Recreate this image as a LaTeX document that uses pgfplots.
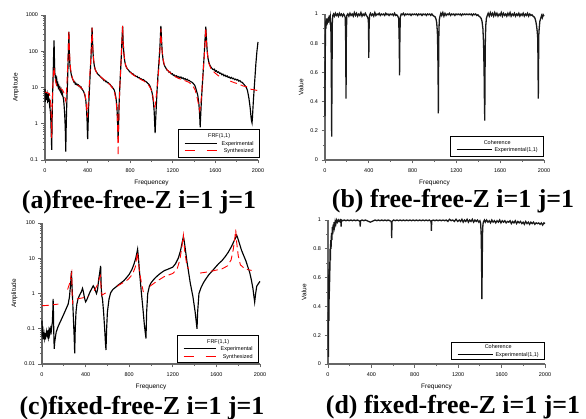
\documentclass[border=0pt]{standalone}
\usepackage{fontspec}
\setmainfont{Liberation Sans}
\newfontfamily\capfont{Liberation Serif}
\usepackage{pgfplots}
\pgfplotsset{compat=1.18}
\pgfplotsset{
 base/.style={scale only axis, anchor=south west,
  axis x line*=bottom, axis y line*=left,
  axis line style={-, draw=black!60, line width=1.1bp},
  tick style={black!60, line width=0.9bp},
  tick align=outside, major tick length=3.5bp, minor tick length=2bp,
  xmin=0, xmax=2000, xtick={0,400,...,2000}, minor xtick={200,600,1000,1400,1800},
  /pgf/number format/assume math mode=true,
  /pgf/number format/1000 sep={},
  ticklabel style={font=\fontsize{5.5}{6}\selectfont},
  xticklabel style={yshift=-2bp},
  label style={font=\fontsize{6.5}{7}\selectfont},
  clip=false,
 },
 logax/.style={
  minor ytick={0.02,0.03,0.04,0.05,0.06,0.07,0.08,0.09,0.2,0.3,0.4,0.5,0.6,0.7,0.8,0.9,2,3,4,5,6,7,8,9,20,30,40,50,60,70,80,90,200,300,400,500,600,700,800,900},
  ylabel={Amplitude}},
 cohax/.style={ymin=0, ymax=1, ytick={0,0.2,0.4,0.6,0.8,1}, minor ytick={0.1,0.3,0.5,0.7,0.9}, ylabel={Value}, xlabel={Frequency}},
 exper/.style={black, line width=1.15bp},
 cohl/.style={black!90, line width=1.3bp},
 synth/.style={red, line width=0.9bp, dash pattern=on 7bp off 4bp, unbounded coords=jump},
}
\newcommand{\legfont}{\fontsize{5.5}{7.5}\selectfont}
\newcommand{\solidsample}{\rule[1.6bp]{32bp}{0.7bp}}
\newcommand{\dashsample}{\textcolor{red}{\rule[1.6bp]{10bp}{0.8bp}\hspace{12bp}\rule[1.6bp]{10bp}{0.8bp}}}
\begin{document}
\begin{tikzpicture}
\path[use as bounding box] (0,0) rectangle (586bp,419bp);
% ---------------- (a)
\begin{axis}[ymode=log, base, logax, at={(45bp,259bp)}, width=213bp, height=145bp,
  ymin=0.1, ymax=1000, ytick={0.1,1,10,100,1000}, yticklabels={0.1,1,10,100,1000},
  xlabel={Frequencey}]
\addplot[exper] table {
x y
0 9
3 4
6 8
9 5
12 7
15 4.5
18 6.5
22 5
25 6
28 4.8
32 5.5
35 4
38 5
42 3.5
45 3.8
48 2.5
52 2
55 1.2
58 0.6
61 0.3
63 0.19
65 0.5
68 2
72 8
76 20
80 60
83 130
85 200
87 100
90 40
93 25
97 18
100 22
105 15
110 17
115 12
120 13
125 10
130 11
135 9
140 9.8
145 8
150 8.8
155 7
160 7.6
165 6
170 5.5
175 4.5
180 3
185 1.8
190 0.8
193 0.35
195 0.17
198 0.6
202 2
207 6
212 15
217 50
221 150
224 350
227 150
231 60
236 35
242 27
248 22
254 19
260 17
266 15.5
272 14
278 14.5
284 12.5
290 13
296 12
302 12.3
308 11.5
314 11.8
320 10.8
326 11
332 10
338 10.3
344 9.2
350 9
356 8.3
362 7.8
368 7
375 6
383 4.5
390 2.5
395 1.2
399 0.45
401 0.38
404 0.8
410 3
418 10
426 30
433 80
438 200
442 450
446 200
451 90
458 50
466 36
474 30
482 27
490 25
498 23
506 22
514 21
522 19.5
530 19
538 17.5
546 17
554 15.5
562 15.8
570 14.5
578 14.8
586 13.5
594 13.6
602 12.6
610 12.3
618 11.2
626 10.8
634 10
642 9.3
650 8.5
658 7
667 5
675 3
680 1.5
684 0.6
687 0.38
690 0.8
695 3
702 10
710 30
718 90
724 250
729 500
733 200
740 90
748 55
756 42
765 36
775 32
785 30
795 27
805 26.5
815 24
825 24
835 22
845 21.5
855 20
865 20.3
875 18.5
885 18.8
895 17.5
905 17.3
915 16.2
925 16.5
935 15.2
945 14.8
955 14
965 13
975 12.3
985 11
993 9.5
1000 8.5
1008 6.5
1018 4
1025 2.2
1030 1
1034 0.55
1038 1.1
1045 3
1052 8
1060 20
1070 50
1080 150
1088 500
1093 250
1100 100
1108 60
1116 45
1126 38
1136 34
1146 30
1156 29
1166 26
1176 26.5
1186 23.5
1196 24
1206 21.5
1216 22
1226 20
1236 21
1246 19
1256 20
1266 18.5
1276 19.5
1286 17.8
1296 18.5
1306 17
1316 17.6
1326 16.2
1336 16.8
1346 15.5
1356 15.6
1366 14.5
1376 14.2
1386 13.5
1396 12.5
1406 11.5
1416 9.5
1426 7.5
1435 6
1445 3.5
1452 1.8
1457 0.8
1461 1.5
1468 4
1476 10
1486 30
1496 90
1504 250
1510 480
1515 250
1522 110
1530 65
1540 48
1550 40
1560 36
1570 33
1580 31
1590 32
1600 28
1610 29
1620 26
1630 27
1640 24.5
1650 25
1660 22.5
1670 23.5
1680 21
1690 22
1700 20
1710 21
1720 19
1730 19.5
1740 18
1750 19
1760 17.5
1770 18
1780 16.5
1790 17
1800 16
1810 16.5
1820 15
1830 15.5
1840 14.2
1850 14
1860 13
1870 12
1880 11
1890 10
1900 8.5
1908 6.5
1915 5
1922 3.5
1928 2.5
1934 1.6
1939 1.2
1944 1.05
1948 1.5
1952 2.5
1958 5
1965 10
1972 20
1980 45
1990 100
2000 180
};
\addplot[synth] table {
x y
0 7.5
20 7.2
40 6.8
48 5.5
54 3.5
58 1.8
61 0.8
63 0.4
66 1.5
70 5
75 14
80 28
85 36
90 24
97 16
110 11
125 9.5
140 9.2
155 9
165 8.5
175 7.5
183 6
190 4.8
195 4.2
200 6
207 15
214 50
220 150
224 380
229 120
236 45
245 25
260 17
280 13.5
300 12
330 10.5
360 8.5
375 6.5
386 4
394 2
398 1.5
403 2.5
412 8
422 25
432 80
438 200
442 450
447 150
456 60
470 32
490 24
520 20
550 17
580 14
610 12
635 9.5
655 7
668 4
677 2
682 0.8
685 0.3
687 0.13
690 0.5
696 3
705 15
715 60
723 200
729 500
735 160
745 65
760 38
790 28
830 22
880 18
930 15
970 12
995 9
1010 6.5
1020 4.2
1027 3
1030 2.9
1035 3.2
1045 6
1060 15
1072 45
1082 150
1088 420
1095 150
1105 70
1120 42
1150 30
1200 22
1250 18
1300 16
1350 14
1385 11.5
1410 8.5
1430 5
1445 3
1453 2.3
1460 3
1470 6
1482 20
1495 70
1504 200
1510 450
1516 180
1526 80
1540 45
1560 32
1590 26
1620 22
1640 20
1645 nan
1740 15
1780 13.5
1820 12.5
1860 11
1897 10.5
1915 nan
1928 9
1960 8.7
2000 8.2
};
\node[draw=black, line width=0.7bp, fill=white, anchor=south east, inner xsep=3bp, inner ysep=1bp,
  minimum width=81bp, minimum height=28bp, font=\legfont] at ([xshift=2bp,yshift=2bp]rel axis cs:1,0)
  {\begin{tabular}{@{}l@{\hspace{5bp}}r@{}}\multicolumn{2}{c}{FRF(1,1)}\\ \solidsample & Experimental\\ \dashsample & Synthesized\end{tabular}};
\end{axis}
% ---------------- (b)
\begin{axis}[base, cohax, at={(325bp,259bp)}, width=219bp, height=146bp]
\addplot[cohl] table {
x y
0 0.30
2 0.86
4 0.78
6 0.95
8 0.90
11 0.97
14 0.92
17 0.96
20 0.93
24 0.97
28 0.94
32 0.98
36 0.95
40 0.99
44 0.96
48 0.98
52 0.93
55 0.85
58 0.55
61 0.16
64 0.60
67 0.94
71 0.99
78 1.00
86 0.985
95 1.005
104 0.99
113 1.00
122 0.985
131 1.005
140 0.99
150 1.00
160 0.985
170 1.00
178 0.99
185 0.975
189 0.80
192 0.42
195 0.85
199 0.99
208 1.00
218 0.985
228 1.005
238 0.99
248 1.00
258 0.985
268 1.01
278 0.99
288 1.005
298 0.985
308 1.00
318 0.99
328 1.01
338 0.985
348 1.00
358 0.99
368 1.005
378 0.99
388 0.98
396 0.96
399 0.80
400 0.70
402 0.88
406 0.99
415 1.005
425 0.99
435 1.00
445 0.985
455 1.01
465 0.99
475 1.00
485 0.995
495 1.005
505 0.99
515 1.00
525 0.995
535 1.00
545 0.99
555 1.005
565 0.995
575 1.00
585 0.99
595 1.00
605 0.995
615 1.00
625 0.99
635 1.005
645 0.99
655 0.995
665 0.985
673 0.97
678 0.80
681 0.58
684 0.85
688 0.98
696 1.00
706 0.995
716 1.005
726 0.99
736 1.00
746 0.995
756 1.00
766 0.995
776 1.00
786 0.99
796 1.00
806 0.995
816 1.00
826 0.995
836 1.00
846 0.99
856 1.00
866 0.995
876 1.00
886 0.99
896 1.00
906 0.995
916 1.00
926 0.99
936 1.00
946 0.995
956 1.00
966 0.99
976 1.00
986 0.99
996 0.985
1006 0.98
1014 0.965
1020 0.94
1026 0.88
1030 0.75
1033 0.55
1035 0.32
1037 0.60
1040 0.88
1044 0.96
1050 0.985
1058 1.005
1066 0.99
1076 1.01
1086 0.985
1096 1.005
1106 0.99
1116 1.00
1126 0.995
1136 1.005
1146 0.99
1156 1.00
1166 0.995
1176 1.00
1186 0.99
1196 1.00
1206 0.995
1216 1.00
1226 0.995
1236 1.00
1246 0.99
1256 1.00
1266 0.995
1276 1.00
1286 0.995
1296 1.00
1306 0.995
1316 1.00
1326 0.995
1336 1.00
1346 0.99
1356 1.00
1366 0.995
1376 1.00
1386 0.99
1396 0.995
1406 0.985
1416 0.98
1426 0.97
1434 0.95
1442 0.90
1448 0.80
1453 0.60
1456 0.40
1459 0.27
1461 0.55
1464 0.80
1468 0.92
1474 0.97
1482 0.99
1490 1.005
1500 0.985
1510 1.01
1520 0.99
1530 1.005
1540 0.985
1550 1.01
1560 0.99
1570 1.005
1580 0.985
1590 1.00
1600 0.99
1610 1.01
1620 0.985
1630 1.005
1640 0.99
1650 1.00
1660 0.985
1670 1.005
1680 0.99
1690 1.01
1700 0.985
1710 1.00
1720 0.99
1730 1.005
1740 0.985
1750 1.00
1760 0.99
1770 1.005
1780 0.985
1790 1.00
1800 0.99
1810 1.005
1820 0.985
1830 1.00
1840 0.99
1850 1.005
1860 0.985
1870 1.00
1880 0.99
1890 0.995
1900 0.985
1910 0.98
1918 0.97
1925 0.95
1932 0.92
1938 0.88
1942 0.84
1945 0.70
1947 0.50
1948 0.42
1950 0.62
1952 0.85
1956 0.90
1962 0.95
1970 0.97
1978 0.99
1985 0.975
1992 0.995
2000 0.985
};
\node[draw=black, line width=0.7bp, fill=white, anchor=south east, inner xsep=3bp, inner ysep=1bp,
  minimum width=93bp, minimum height=20bp, font=\legfont] at ([xshift=0bp,yshift=3bp]rel axis cs:1,0)
  {\begin{tabular}{@{}l@{\hspace{3bp}}r@{}}\multicolumn{2}{c}{Coherence}\\ \rule[1.6bp]{35bp}{0.9bp} & Experimental(1,1)\end{tabular}};
\end{axis}
% ---------------- (c)
\begin{axis}[ymode=log, base, logax, at={(42bp,55bp)}, width=218bp, height=141bp,
  ymin=0.01, ymax=100, ytick={0.01,0.1,1,10,100}, yticklabels={0.01,0.1,1,10,100},
  xlabel={Frequency}]
\addplot[exper] table {
x y
0 0.17
3 0.06
6 0.12
9 0.05
12 0.08
16 0.05
20 0.07
24 0.055
28 0.075
32 0.05
36 0.065
40 0.08
44 0.06
48 0.09
52 0.065
56 0.075
60 0.06
64 0.085
68 0.07
72 0.09
76 0.08
80 0.1
85 0.085
90 0.12
95 0.15
99 0.3
102 0.7
105 0.3
108 0.08
112 0.027
116 0.04
120 0.05
130 0.08
145 0.11
160 0.14
180 0.19
200 0.26
220 0.36
240 0.5
252 0.8
260 1.5
266 2.6
270 4.3
274 2
280 0.8
288 0.2
295 0.06
300 0.02
305 0.1
312 0.3
320 0.5
330 0.7
345 0.9
360 1.1
372 1.4
380 1.1
390 0.75
400 0.58
410 0.65
425 0.85
440 1.1
455 1.35
470 1.65
480 1.45
490 1.2
500 1
510 1.3
520 2.5
530 4
538 6.1
542 2
547 0.9
555 0.7
565 0.3
575 0.1
582 0.04
587 0.025
593 0.1
600 0.3
615 0.7
630 1.05
650 1.3
675 1.5
700 1.75
725 2.0
750 2.3
775 2.8
800 3.5
825 4.8
845 7
860 10
870 14
877 18
885 10
895 4
910 1.2
925 0.4
940 0.12
954 0.053
960 0.3
970 1.0
985 1.6
1000 2.0
1025 2.5
1050 3.0
1075 3.5
1100 4.0
1125 4.5
1150 4.8
1175 5.2
1200 5.6
1225 7
1250 10
1270 16
1285 27
1297 41
1305 30
1315 18
1330 8
1345 4
1360 2
1385 0.8
1405 0.3
1422 0.1
1428 0.3
1440 1.0
1460 1.5
1480 2.0
1500 2.5
1530 3.4
1560 4.3
1590 5.5
1620 7
1650 8.5
1680 11
1710 15
1740 22
1760 30
1775 37
1786 45
1795 38
1810 27
1830 17
1850 12
1870 8.5
1890 5.5
1905 4
1920 2.5
1935 1.4
1951 0.57
1960 1.0
1970 1.6
1980 1.8
1990 2.0
2000 2.2
};
\addplot[synth] table {
x y
0 0.45
50 0.46
100 0.48
150 0.5
160 nan
235 1.3
255 2
265 3
272 3.8
276 1
282 0.5
290 nan
320 0.7
370 0.75
425 0.82
440 nan
480 1.2
510 1.8
528 2.8
535 3.2
542 1.5
550 0.9
575 1.0
600 1.1
620 nan
690 1.6
740 2.0
790 2.5
830 3.5
855 5.5
868 10
875 15
882 9
895 4
915 1.8
930 1.1
950 nan
990 1.6
1050 2.2
1120 3
1200 3.7
1240 5
1265 9
1282 20
1297 45
1310 15
1330 6
1345 5
1360 nan
1450 3.8
1500 4
1570 4.4
1650 5
1700 6
1735 9
1755 18
1770 40
1777 65
1785 30
1800 12
1820 6.5
1862 5
1923 4.5
};
\node[draw=black, line width=0.7bp, fill=white, anchor=south east, inner xsep=3bp, inner ysep=1bp,
  minimum width=81bp, minimum height=27bp, font=\legfont] at ([xshift=-1bp,yshift=1bp]rel axis cs:1,0)
  {\begin{tabular}{@{}l@{\hspace{5bp}}r@{}}\multicolumn{2}{c}{FRF(1,1)}\\ \solidsample & Experimental\\ \dashsample & Synthesized\end{tabular}};
\end{axis}
% ---------------- (d)
\begin{axis}[base, cohax, at={(328bp,55bp)}, width=217bp, height=144bp]
\addplot[cohl] table {
x y
2 0.36
4 0.05
6 0.62
8 0.30
10 0.66
12 0.45
14 0.71
16 0.57
19 0.80
22 0.72
25 0.86
28 0.80
32 0.91
36 0.86
40 0.95
44 0.90
48 0.97
52 0.93
56 0.985
60 0.955
66 0.99
72 0.97
80 1.00
88 0.985
96 1.00
104 0.99
112 1.00
118 0.99
121 0.955
124 1.00
135 0.995
150 1.00
165 0.995
180 1.00
195 0.995
210 1.00
225 0.995
240 1.00
255 0.995
270 1.00
285 0.995
294 0.99
297 0.955
300 0.995
315 1.00
330 0.995
345 1.00
360 0.995
375 0.99
390 0.985
405 0.99
420 0.995
435 1.00
450 0.995
465 1.00
480 0.995
495 1.00
510 0.995
525 1.00
540 0.995
555 1.00
570 0.995
584 0.99
587 0.875
590 0.99
605 1.00
620 0.995
635 1.00
650 0.995
665 1.00
680 0.995
695 1.00
710 0.995
725 1.00
740 0.995
755 1.00
770 0.995
785 1.00
800 0.995
815 1.00
830 0.995
845 1.00
860 0.995
875 1.00
890 0.995
905 1.00
920 0.995
935 1.00
950 0.99
953 0.925
956 0.995
970 1.00
985 0.995
1000 1.00
1015 0.995
1030 1.00
1045 0.995
1060 1.00
1075 0.995
1090 1.00
1105 0.99
1120 1.005
1135 0.995
1150 1.00
1165 0.99
1180 1.005
1195 0.99
1210 1.00
1222 0.99
1234 1.005
1246 0.985
1258 1.00
1270 0.99
1282 1.005
1294 0.985
1306 1.00
1318 0.99
1330 1.005
1342 0.985
1354 1.00
1366 0.99
1378 1.00
1390 0.985
1400 0.995
1406 0.98
1411 0.92
1415 0.75
1418 0.45
1421 0.65
1424 0.90
1428 0.97
1434 0.99
1442 1.00
1450 0.985
1462 1.00
1474 0.985
1486 0.995
1498 0.98
1510 1.00
1522 0.985
1534 0.995
1546 0.98
1558 0.995
1570 0.985
1582 1.00
1594 0.98
1606 0.995
1618 0.985
1630 0.995
1642 0.98
1654 0.99
1666 0.985
1678 0.995
1690 0.975
1702 0.99
1714 0.98
1726 0.995
1738 0.975
1750 0.99
1762 0.98
1774 0.99
1786 0.975
1798 0.985
1810 0.97
1822 0.99
1834 0.975
1846 0.985
1858 0.97
1870 0.985
1882 0.975
1894 0.985
1906 0.97
1918 0.98
1930 0.975
1942 0.98
1954 0.97
1966 0.98
1978 0.965
1990 0.98
2000 0.975
};
\node[draw=black, line width=0.7bp, fill=white, anchor=south east, inner xsep=3bp, inner ysep=0.5bp,
  minimum width=93bp, minimum height=17bp, font=\legfont] at ([xshift=0bp,yshift=4bp]rel axis cs:1,0)
  {\begin{tabular}{@{}l@{\hspace{3bp}}r@{}}\multicolumn{2}{c}{Coherence}\\ \rule[1.6bp]{35bp}{0.9bp} & Experimental(1,1)\end{tabular}};
\end{axis}
% ---------------- captions
\node[font=\capfont\bfseries\fontsize{26}{28}\selectfont, anchor=base] at (139bp,210bp) {(a)free-free-Z i=1 j=1};
\node[font=\capfont\bfseries\fontsize{26}{28}\selectfont, anchor=base] at (453bp,211bp) {(b) free-free-Z i=1 j=1};
\node[font=\capfont\bfseries\fontsize{26}{28}\selectfont, anchor=base] at (142bp,5bp) {(c)fixed-free-Z i=1 j=1};
\node[font=\capfont\bfseries\fontsize{26}{28}\selectfont, anchor=base] at (453bp,6bp) {(d) fixed-free-Z i=1 j=1};
\end{tikzpicture}
\end{document}
